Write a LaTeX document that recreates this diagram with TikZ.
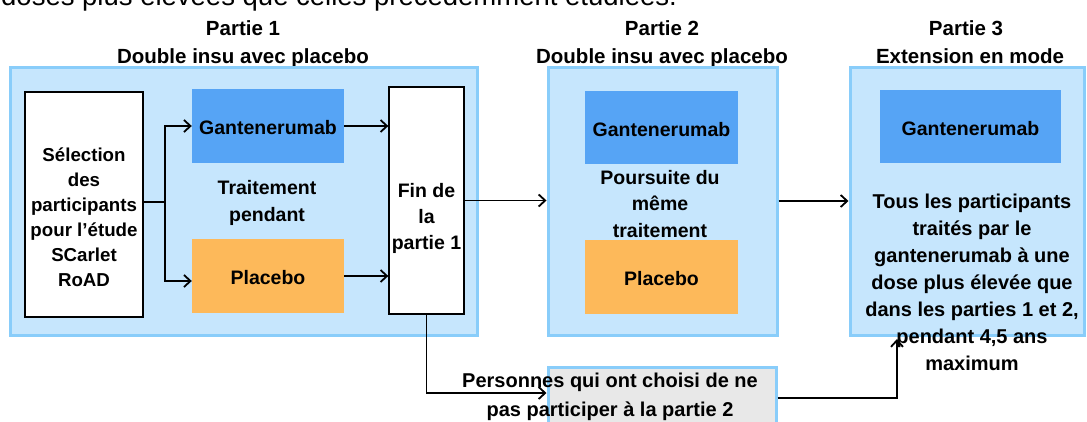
\documentclass[tikz,border=0pt]{standalone}
\usepackage{fontspec}
\setmainfont{Liberation Sans}
\usetikzlibrary{arrows.meta}
\definecolor{cfill}{RGB}{198,230,253}
\definecolor{cborder}{RGB}{137,205,250}
\definecolor{cgant}{RGB}{86,164,245}
\definecolor{cplac}{RGB}{253,185,90}
\definecolor{cgray}{RGB}{232,232,232}
\begin{document}
\begin{tikzpicture}[x=1pt,y=-1pt,
  panel/.style={draw=cborder, line width=3pt, fill=cfill, inner sep=0pt},
  wbox/.style={draw=black, line width=1.3pt, fill=white, inner sep=0pt},
  gbox/.style={fill=cgant, inner sep=0pt},
  pbox/.style={fill=cplac, inner sep=0pt},
  lbl/.style={font=\bfseries\fontsize{19.5}{26}\selectfont, align=center, inner sep=0pt},
  ttl/.style={font=\bfseries\fontsize{20.5}{28}\selectfont, anchor=base, inner sep=0pt},
  arr/.style={line width=1.8pt, -{Straight Barb[length=6.5pt,width=12pt,line width=1.8pt]}},
  ln/.style={line width=1.8pt}
]
\useasboundingbox (0,0) rectangle (1087,421);
% cut-off sentence at the top
\node[anchor=base west, inner sep=0pt, font=\fontsize{27.5}{30}\selectfont] (top) at (1,5.5) {doses plus élevées que celles précédemment étudiées.};
% titles
\node[ttl] (t1a) at (243,35) {Partie 1};
\node[ttl] (t1b) at (243,63) {Double insu avec placebo};
\node[ttl] (t2a) at (662,35) {Partie 2};
\node[ttl] (t2b) at (662,63) {Double insu avec placebo};
\node[ttl] (t3a) at (966,35) {Partie 3};
\node[ttl] (t3b) at (970,63) {Extension en mode};
% panels
\node[panel, minimum width=467pt, minimum height=268pt] (p1) at (243.5,201) {};
\node[panel, minimum width=229pt, minimum height=268pt] (p2) at (662.5,201) {};
\node[panel, minimum width=234pt, minimum height=268pt] (p3) at (967,201) {};
\node[draw=cborder, line width=3pt, fill=cgray, inner sep=0pt, minimum width=228pt, minimum height=78pt] (gray) at (662,406) {};
% part 1
\node[wbox, minimum width=118pt, minimum height=225pt] (sel) at (84,204.5) {};
\node[lbl, font=\bfseries\fontsize{18.7}{25}\selectfont] (selt) at (84,217) {Sélection\\des\\participants\\pour l’étude\\SCarlet\\RoAD};
\node[gbox, minimum width=152pt, minimum height=74pt] (g1) at (268,126) {};
\node[lbl] (g1t) at (268,128) {Gantenerumab};
\node[pbox, minimum width=152pt, minimum height=74pt] (pl1) at (268,276) {};
\node[lbl] (pl1t) at (268,278) {Placebo};
\node[lbl, font=\bfseries\fontsize{19.5}{27}\selectfont] (trt) at (267,203) {Traitement\\pendant};
\node[wbox, minimum width=75pt, minimum height=227pt] (fin) at (426.5,200.5) {};
\node[lbl] (fint) at (426.5,218) {Fin de\\la\\partie 1};
% part 2
\node[gbox, minimum width=153pt, minimum height=73pt] (g2) at (661.5,127.5) {};
\node[lbl] (g2t) at (661.5,129.5) {Gantenerumab};
\node[pbox, minimum width=153pt, minimum height=74pt] (pl2) at (661.5,277) {};
\node[lbl] (pl2t) at (661.5,279) {Placebo};
\node[lbl, font=\bfseries\fontsize{19.5}{26.5}\selectfont] (pst) at (660,204) {Poursuite du\\même\\traitement};
% part 3
\node[gbox, minimum width=181pt, minimum height=73pt] (g3) at (970.5,126.5) {};
\node[lbl] (g3t) at (970.5,128.5) {Gantenerumab};
\node[lbl, font=\bfseries\fontsize{20}{27}\selectfont] (p3t) at (972,282) {Tous les participants\\traités par le\\gantenerumab à une\\dose plus élevée que\\dans les parties 1 et 2,\\pendant 4,5 ans\\maximum};
% bottom box text
\node[lbl, font=\bfseries\fontsize{20}{29}\selectfont] (grayt) at (610,397) {Personnes qui ont choisi de ne\\pas participer à la partie 2};
% connectors
\coordinate (j) at (165,202);
\coordinate (p3in) at (897,339);
\draw[ln] (sel.east |- j) -- (j);
\draw[arr] (j) |- (g1.west);
\draw[arr] (j) |- ([yshift=-5pt]pl1.west);
\draw[arr] (g1.east) -- (g1.east -| fin.west);
\draw[arr] (pl1.east) -- (pl1.east -| fin.west);
\draw[arr] (fin.east) -- (fin.east -| p2.west);
\draw[arr] (p2.east) -- (p2.east -| p3.west);
\draw[arr] (fin.south) |- ([yshift=13pt]gray.west);
\draw[arr] ([yshift=8pt]gray.east) -| (p3in);
\end{tikzpicture}
\end{document}
